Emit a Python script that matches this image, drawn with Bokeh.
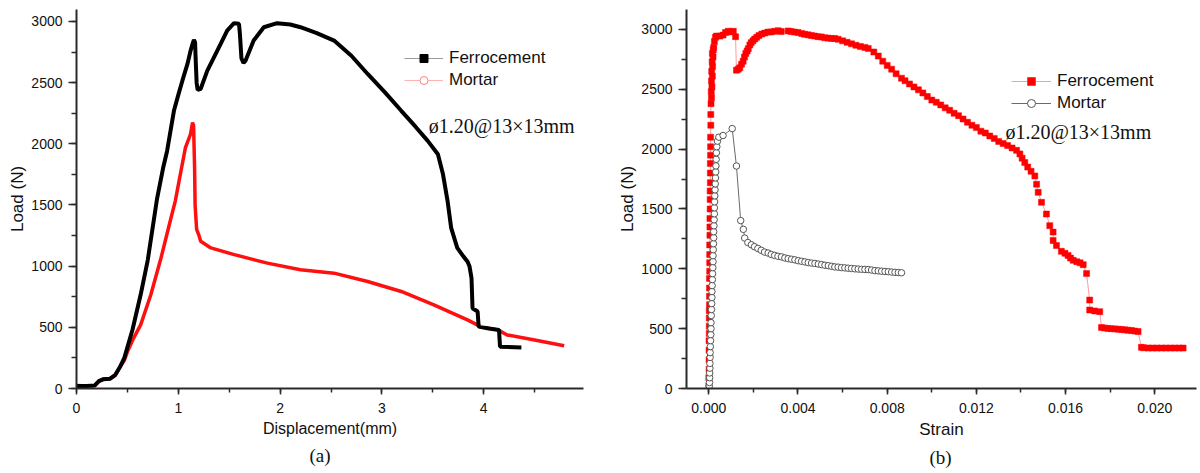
from bokeh.plotting import figure
from bokeh.layouts import row
from bokeh.models import (Legend, LegendItem, Label, Title, SingleIntervalTicker,
                          NumeralTickFormatter, Range1d)
from bokeh.embed import file_html
from bokeh.resources import INLINE

# ---------------- Data: panel (a) Load vs Displacement ----------------
a_ferro_disp = [0.00, 0.10, 0.18, 0.22, 0.26, 0.33, 0.38, 0.43, 0.47, 0.55, 0.63, 0.70, 0.79,
                0.85, 0.89, 0.957, 1.00, 1.04, 1.09, 1.12, 1.14, 1.153, 1.165, 1.17, 1.18, 1.19,
                1.22, 1.285, 1.35, 1.416, 1.48, 1.547, 1.596, 1.605, 1.62, 1.64, 1.66, 1.74,
                1.84, 1.97, 2.10, 2.20, 2.36, 2.53, 2.70, 2.86, 3.03, 3.19, 3.33, 3.45, 3.55,
                3.60, 3.645, 3.68, 3.74, 3.80, 3.84, 3.86, 3.88, 3.89, 3.94, 3.95, 4.05, 4.15,
                4.16, 4.37]
a_ferro_load = [20, 20, 25, 60, 75, 80, 110, 180, 250, 480, 766, 1050, 1545,
                1800, 1942, 2270, 2400, 2516, 2653, 2760, 2817, 2850, 2830, 2700, 2500, 2440,
                2450, 2598, 2707, 2817, 2926, 2986, 2981, 2900, 2700, 2660, 2680, 2844,
                2953, 2986, 2975, 2953, 2905, 2844, 2720, 2571, 2420, 2270, 2140, 2024, 1915,
                1751, 1532, 1313, 1149, 1080, 1039, 1000, 902, 656, 629, 506, 490, 479,
                342, 336]

a_mortar_disp = [0.00, 0.10, 0.18, 0.22, 0.26, 0.33, 0.38, 0.43, 0.47, 0.50, 0.56, 0.63, 0.73,
                 0.83, 0.92, 0.97, 1.02, 1.07, 1.12, 1.14, 1.15, 1.16, 1.165, 1.18, 1.20, 1.22,
                 1.32, 1.55, 1.875, 2.20, 2.53, 2.86, 3.19, 3.51, 3.84, 3.97, 4.14, 4.23, 4.50,
                 4.79]
a_mortar_load = [25, 20, 25, 60, 75, 80, 110, 180, 230, 300, 410, 520, 766,
                 1067, 1367, 1532, 1751, 1969, 2079, 2174, 2150, 1800, 1500, 1300, 1258, 1203,
                 1149, 1094, 1025, 971, 943, 875, 793, 684, 561, 506, 479, 438, 397,
                 350]

# ---------------- Data: panel (b) Load vs Strain ----------------
b_ferro_strain = [0.00000, 0.00000, 0.00001, 0.00001, 0.00001, 0.00001, 0.00002, 0.00002, 0.00002,
                  0.00002, 0.00003, 0.00003, 0.00003, 0.00003, 0.00004, 0.00004, 0.00004, 0.00004,
                  0.00005, 0.00005, 0.00005, 0.00006, 0.00006, 0.00006, 0.00007, 0.00007, 0.00007,
                  0.00008, 0.00008, 0.00008, 0.00009, 0.00009, 0.00010, 0.00012, 0.00011, 0.00014,
                  0.00012, 0.00016, 0.00013, 0.00017, 0.00015, 0.00019, 0.00016, 0.00020, 0.00022,
                  0.00025, 0.00030, 0.00035, 0.00050, 0.00064, 0.00075, 0.00087, 0.00098, 0.00110,
                  0.00120, 0.00124, 0.00132, 0.00139, 0.00147, 0.00154, 0.00160, 0.00166, 0.00172,
                  0.00177, 0.00184, 0.00190, 0.00198, 0.00206, 0.00215, 0.00225, 0.00238, 0.00251,
                  0.00265, 0.00280, 0.00295, 0.00311, 0.00325, 0.00356, 0.00370, 0.00385, 0.00400,
                  0.00416, 0.00430, 0.00445, 0.00460, 0.00475, 0.00490, 0.00505, 0.00520, 0.00535,
                  0.00550, 0.00565, 0.00580, 0.00600, 0.00620, 0.00640, 0.00660, 0.00680, 0.00700,
                  0.00715, 0.00740, 0.00760, 0.00780, 0.00800, 0.00820, 0.00840, 0.00864, 0.00880,
                  0.00900, 0.00920, 0.00940, 0.00960, 0.00980, 0.01000, 0.01020, 0.01040, 0.01060,
                  0.01080, 0.01100, 0.01120, 0.01140, 0.01160, 0.01180, 0.01200, 0.01220, 0.01240,
                  0.01260, 0.01280, 0.01300, 0.01320, 0.01340, 0.01360, 0.01380, 0.01395, 0.01405,
                  0.01417, 0.01430, 0.01445, 0.01462, 0.01470, 0.01477, 0.01492, 0.01514, 0.01529,
                  0.01544, 0.01544, 0.01559, 0.01581, 0.01597, 0.01611, 0.01622, 0.01634, 0.01650,
                  0.01665, 0.01679, 0.01694, 0.01708, 0.01708, 0.01730, 0.01753, 0.01761, 0.01775,
                  0.01790, 0.01805, 0.01820, 0.01836, 0.01850, 0.01865, 0.01880, 0.01895, 0.01910,
                  0.01925, 0.01940, 0.01950, 0.01970, 0.01990, 0.02010, 0.02030, 0.02050, 0.02070,
                  0.02090, 0.02110, 0.02127]
b_ferro_load = [20, 90, 160, 240, 320, 400, 460, 520, 590,
                650, 700, 770, 840, 920, 980, 1050, 1120, 1200,
                1280, 1350, 1420, 1500, 1580, 1650, 1720, 1800, 1880,
                1950, 2020, 2100, 2200, 2290, 2380, 2430, 2480, 2520,
                2570, 2610, 2650, 2690, 2730, 2770, 2800, 2830, 2850,
                2900, 2935, 2945, 2945, 2953, 2975, 2985, 2980, 2985,
                2940, 2660, 2668, 2680, 2710, 2735, 2770, 2800, 2820,
                2840, 2870, 2890, 2905, 2920, 2935, 2950, 2962, 2970,
                2978, 2980, 2985, 2990, 2983, 2988, 2983, 2978, 2975,
                2967, 2960, 2955, 2950, 2945, 2940, 2938, 2930, 2928,
                2925, 2925, 2918, 2905, 2893, 2880, 2868, 2858, 2850,
                2842, 2812, 2778, 2735, 2700, 2668, 2630, 2593, 2572,
                2545, 2520, 2496, 2470, 2440, 2410, 2392, 2370, 2345,
                2325, 2300, 2280, 2252, 2225, 2200, 2180, 2150, 2135,
                2110, 2090, 2065, 2048, 2030, 2010, 1990, 1960, 1925,
                1888, 1850, 1815, 1776, 1707, 1639, 1556, 1458, 1361,
                1307, 1237, 1195, 1146, 1130, 1112, 1090, 1071, 1060,
                1050, 1035, 960, 739, 656, 648, 642, 510, 505,
                502, 500, 498, 496, 492, 490, 487, 485, 480,
                476, 344, 340, 338, 338, 338, 338, 338, 338,
                338, 338, 338]

b_mortar_strain = [0.00002, 0.00003, 0.00004, 0.00004, 0.00005, 0.00005, 0.00006, 0.00006, 0.00007,
                   0.00008, 0.00009, 0.00010, 0.00010, 0.00011, 0.00012, 0.00013, 0.00014, 0.00014,
                   0.00015, 0.00016, 0.00017, 0.00018, 0.00019, 0.00019, 0.00020, 0.00021, 0.00022,
                   0.00022, 0.00023, 0.00024, 0.00025, 0.00025, 0.00026, 0.00027, 0.00028, 0.00029,
                   0.00030, 0.00031, 0.00032, 0.00033, 0.00034, 0.00036, 0.00039, 0.00045, 0.00064,
                   0.00105, 0.00124, 0.00143, 0.00155, 0.00161, 0.00175, 0.00191, 0.00205, 0.00220,
                   0.00235, 0.00250, 0.00266, 0.00280, 0.00295, 0.00310, 0.00326, 0.00341, 0.00356,
                   0.00371, 0.00386, 0.00401, 0.00416, 0.00431, 0.00446, 0.00461, 0.00476, 0.00491,
                   0.00506, 0.00521, 0.00536, 0.00551, 0.00565, 0.00580, 0.00595, 0.00610, 0.00625,
                   0.00640, 0.00655, 0.00670, 0.00685, 0.00700, 0.00715, 0.00730, 0.00745, 0.00760,
                   0.00775, 0.00790, 0.00805, 0.00820, 0.00835, 0.00850, 0.00864]
b_mortar_load = [20, 50, 90, 130, 170, 210, 260, 300, 350,
                 400, 450, 500, 550, 610, 660, 710, 760, 810,
                 860, 910, 960, 1010, 1060, 1110, 1160, 1210, 1260,
                 1310, 1360, 1410, 1460, 1510, 1560, 1610, 1660, 1710,
                 1760, 1810, 1860, 1915, 1970, 2020, 2067, 2100, 2114,
                 2172, 1859, 1403, 1330, 1257, 1220, 1201, 1185, 1170,
                 1155, 1140, 1132, 1120, 1112, 1105, 1100, 1091, 1085,
                 1080, 1075, 1068, 1063, 1058, 1052, 1048, 1045, 1040,
                 1035, 1030, 1026, 1021, 1016, 1014, 1010, 1008, 1005,
                 1003, 1000, 998, 996, 995, 994, 990, 985, 983,
                 980, 978, 976, 973, 971, 969, 967]

series_names = ["Ferrocement", "Mortar"]
annotation_text = "ø1.20@13×13mm"
captions = ["(a)", "(b)"]

SANS = "Liberation Sans"
SERIF = "Liberation Serif"


def style_axes(p, xlabel, ylabel, x_interval, y_interval):
    p.xaxis.ticker = SingleIntervalTicker(interval=x_interval, num_minor_ticks=2)
    p.yaxis.ticker = SingleIntervalTicker(interval=y_interval, num_minor_ticks=2)
    p.xaxis.axis_label = xlabel
    p.yaxis.axis_label = ylabel
    for ax in (p.xaxis[0], p.yaxis[0]):
        ax.axis_line_color = "#2a2a2a"
        ax.axis_line_width = 2
        ax.major_tick_line_color = "#2a2a2a"
        ax.major_tick_line_width = 1.5
        ax.minor_tick_line_color = "#2a2a2a"
        ax.minor_tick_line_width = 1.5
        ax.major_tick_in = 0
        ax.minor_tick_in = 0
        ax.major_label_text_font = SANS
        ax.major_label_text_font_size = "14px"
        ax.major_label_text_color = "#111111"
        ax.axis_label_text_font = SANS
        ax.axis_label_text_font_style = "normal"
        ax.axis_label_text_color = "#111111"
    p.xaxis.major_tick_out = 6
    p.xaxis.minor_tick_out = 4
    p.yaxis.major_tick_out = 8
    p.yaxis.minor_tick_out = 5
    p.xaxis.major_label_standoff = 8
    p.yaxis.major_label_standoff = 6
    p.xaxis.axis_label_standoff = 4
    p.yaxis.axis_label_standoff = 1
    p.xaxis.axis_label_text_font_size = "16px"
    p.yaxis.axis_label_text_font_size = "17px"
    p.xgrid.visible = False
    p.ygrid.visible = False
    p.outline_line_color = None


def legend_for(p, items, loc, glyph_width):
    leg = Legend(items=items, location=loc, border_line_color=None, background_fill_alpha=0,
                 padding=0, margin=0, spacing=2, glyph_width=glyph_width, glyph_height=20,
                 label_height=20, label_standoff=6, label_text_font=SANS,
                 label_text_font_size="17px", label_text_color="#111111")
    p.add_layout(leg)


def caption(p, text, offset):
    p.add_layout(Title(text=text, align="left", offset=offset, standoff=6,
                       text_font=SERIF, text_font_size="19px", text_font_style="normal",
                       text_color="#111111"), "below")


H = 470

# ---------------- Panel (a) ----------------
p1 = figure(width=604, height=H, output_backend="svg", toolbar_location=None,
            x_range=Range1d(0, 4.98), y_range=Range1d(0, 3098),
            min_border_left=76, min_border_right=21, min_border_top=9, min_border_bottom=82,
            background_fill_color="white", border_fill_color="white")
style_axes(p1, "Displacement(mm)", "Load (N)", 1, 500)

p1.line(a_mortar_disp, a_mortar_load, line_color="#ff1010", line_width=3.5)
p1.line(a_ferro_disp, a_ferro_load, line_color="#000000", line_width=4)

# legend-only sample glyphs (placed outside the visible ranges)
lf1 = p1.line([-1, -1], [-1000, -900], line_color="#9a9a9a", line_width=1)
mf1 = p1.scatter([-1], [-1000], marker="square", size=3, fill_color="black", line_color="black")
lm1 = p1.line([-1, -1], [-1000, -900], line_color="#ffb4b4", line_width=1)
mm1 = p1.scatter([-1], [-1000], marker="circle", size=3.5, fill_color="white", line_color="#ff8080")
legend_for(p1, [LegendItem(label=series_names[0], renderers=[lf1, mf1]),
                LegendItem(label=series_names[1], renderers=[lm1, mm1])], (328, 298), 39)
p1.add_layout(Label(x=3.46, y=2147, text=annotation_text, text_font=SERIF,
                    text_font_size="20px", text_baseline="middle", text_color="#111111"))
caption(p1, captions[0], 233)

# ---------------- Panel (b) ----------------
p2 = figure(width=596, height=H, output_backend="svg", toolbar_location=None,
            x_range=Range1d(-0.001, 0.02187), y_range=Range1d(0, 3167),
            min_border_left=82, min_border_right=4, min_border_top=9, min_border_bottom=82,
            background_fill_color="white", border_fill_color="white")
style_axes(p2, "Strain", "Load (N)", 0.004, 500)
p2.xaxis.formatter = NumeralTickFormatter(format="0.000")
p2.xaxis.axis_label_text_font_size = "17px"

fl = p2.line(b_ferro_strain, b_ferro_load, line_color="#ff9c9c", line_width=1)
fs = p2.scatter(b_ferro_strain, b_ferro_load, marker="square", size=6,
                fill_color="#ff0000", line_color="#ff0000", line_width=0.5)
ml = p2.line(b_mortar_strain, b_mortar_load, line_color="#6a6a6a", line_width=1)
ms = p2.scatter(b_mortar_strain, b_mortar_load, marker="circle", size=6.5,
                fill_color="white", line_color="#555555", line_width=1)
legend_for(p2, [LegendItem(label=series_names[0], renderers=[fl, fs]),
                LegendItem(label=series_names[1], renderers=[ml, ms])], (325, 275), 40)
p2.add_layout(Label(x=0.0133, y=2142, text=annotation_text, text_font=SERIF,
                    text_font_size="20px", text_baseline="middle", text_color="#111111"))
caption(p2, captions[1], 243)

layout = row(p1, p2)
open("out.html", "w").write(file_html(layout, INLINE))
